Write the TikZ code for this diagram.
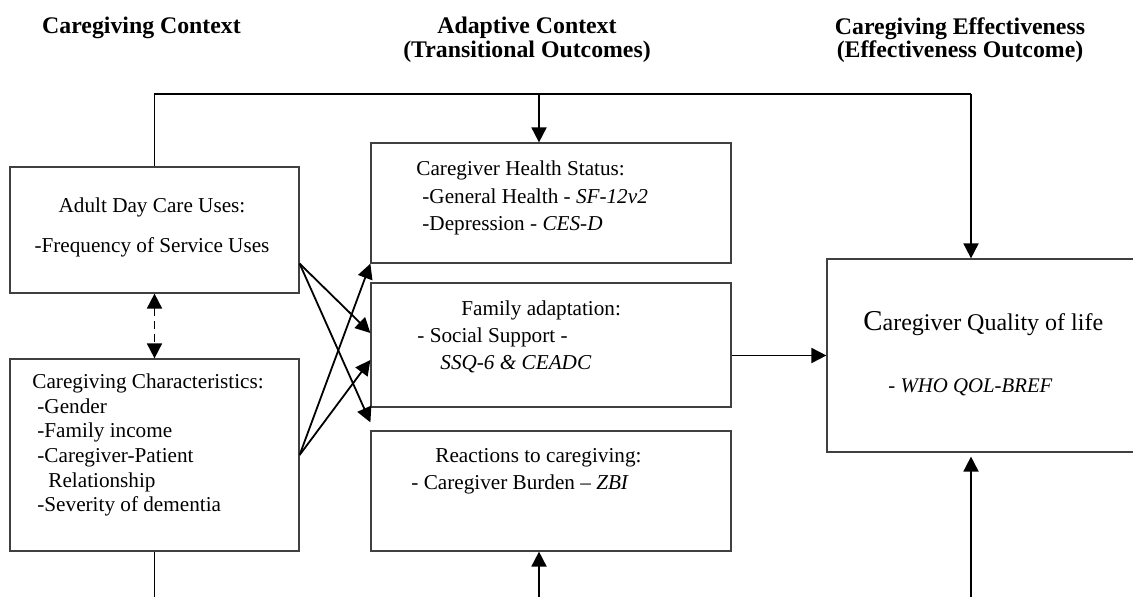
\documentclass[tikz,border=0pt]{standalone}
\usepackage{fontspec}
\setmainfont{Liberation Serif}
\usepackage{tikz}
\usetikzlibrary{arrows.meta, positioning, calc}

\begin{document}
\begin{tikzpicture}[
    x=0.5pt, y=-0.5pt,
    box/.style={draw=black!75, line width=0.6pt, rectangle, inner sep=0pt},
    plain/.style={line width=0.9pt},
    link/.style={line width=0.9pt, -{Triangle[length=7.5pt, width=7.5pt]}},
    dlink/.style={line width=0.9pt, dash pattern=on 4pt off 2.5pt,
      {Triangle[length=7.5pt, width=7.5pt]}-{Triangle[length=7.5pt, width=7.5pt]}},
    head/.style={font=\bfseries\fontsize{11.9}{11.8}\selectfont, align=center, inner sep=0pt, anchor=north},
    body/.style={font=\fontsize{10.6}{13}\selectfont, align=left, inner sep=0pt, anchor=north west}
  ]

    \clip (0,0) rectangle (1133,597);

    % Column headings
    \node[head] (h1) at (141.5,17) {Caregiving Context};
    \node[head] (h2) at (527,17) {Adaptive Context\\(Transitional Outcomes)};
    \node[head] (h3) at (960,17) {Caregiving Effectiveness\\(Effectiveness Outcome)};

    % Boxes
    \node[box, minimum width=144.5pt, minimum height=63pt] (adc) at (154.5,230) {};
    \node[box, minimum width=144.5pt, minimum height=96pt] (chr) at (154.5,455) {};
    \node[box, minimum width=180pt, minimum height=60pt] (hlth) at (551,203) {};
    \node[box, minimum width=180pt, minimum height=62pt] (fam) at (551,345) {};
    \node[box, minimum width=180pt, minimum height=60pt] (reac) at (551,491) {};
    \node[box, minimum width=156.5pt, minimum height=96.5pt] (qol) at (983.5,355.5) {};

    % Box texts
    \node[body, align=center, anchor=north] (adctxt) at (152,197.5)
      {Adult Day Care Uses:\\[7pt]-Frequency of Service Uses};
    \node[body, font=\fontsize{10.6}{12.3}\selectfont] (chrtxt) at (32,373.5)
      {Caregiving Characteristics:\\
       \hspace*{2.5pt}-Gender\\
       \hspace*{2.5pt}-Family income\\
       \hspace*{2.5pt}-Caregiver-Patient\\
       \hspace*{8pt}Relationship\\
       \hspace*{2.5pt}-Severity of dementia};
    \node[body, font=\fontsize{10.6}{13.75}\selectfont] (hlthtxt) at (416,160.5)
      {Caregiver Health Status:\\
       \hspace*{3pt}-General Health - \textit{SF-12v2}\\
       \hspace*{3pt}-Depression - \textit{CES-D}};
    \node[body, font=\fontsize{10.6}{13.5}\selectfont] (famtxt) at (417,300.5)
      {\hspace*{22pt}Family adaptation:\\
       - Social Support -\\
       \hspace*{11.5pt}\textit{SSQ-6 \& CEADC}};
    \node[body, font=\fontsize{10.6}{13.5}\selectfont] (reactxt) at (411,448.5)
      {\hspace*{12pt}Reactions to caregiving:\\
       - Caregiver Burden -- \textit{ZBI}};
    \node[inner sep=0pt, anchor=base west, font=\fontsize{12}{14}\selectfont] (qoltxt) at (863,331)
      {{\fontsize{14.4}{16}\selectfont C}aregiver Quality of life};
    \node[inner sep=0pt, anchor=base west, font=\fontsize{10.4}{13}\selectfont] (whotxt) at (888,393)
      {- \textit{WHO QOL-BREF}};

    % Top feedback line
    \coordinate (topL) at (154.5,94);
    \coordinate (topM) at (539,94);
    \coordinate (topR) at (971,94);
    \draw[plain] (adc.north) -- (topL) -- (topR);
    \draw[link] (topM) -- (topM |- hlth.north);
    \draw[link] (topR) -- (topR |- qol.north);

    % Bottom lines (run off the page)
    \coordinate (botL) at (154.5,600);
    \coordinate (botM) at (539,600);
    \coordinate (botR) at (971,600);
    \draw[plain] (chr.south) -- (botL);
    \draw[link] (botM) -- (botM |- reac.south);
    \draw[link, shorten >=2pt] (botR) -- (botR |- qol.south);

    % Context links
    \draw[dlink] (adc.south) -- (chr.north);
    \draw[link] ([yshift=15pt]adc.south east) -- ([yshift=6pt]fam.west);
    \draw[link] ([yshift=15pt]adc.south east) -- ([yshift=4pt]reac.north west);
    \draw[link] (chr.east) -- (hlth.south west);
    \draw[link] (chr.east) -- ([yshift=-7.5pt]fam.west);
    \draw[link] (fam.east |- qol.west) -- (qol.west);

\end{tikzpicture}
\end{document}
